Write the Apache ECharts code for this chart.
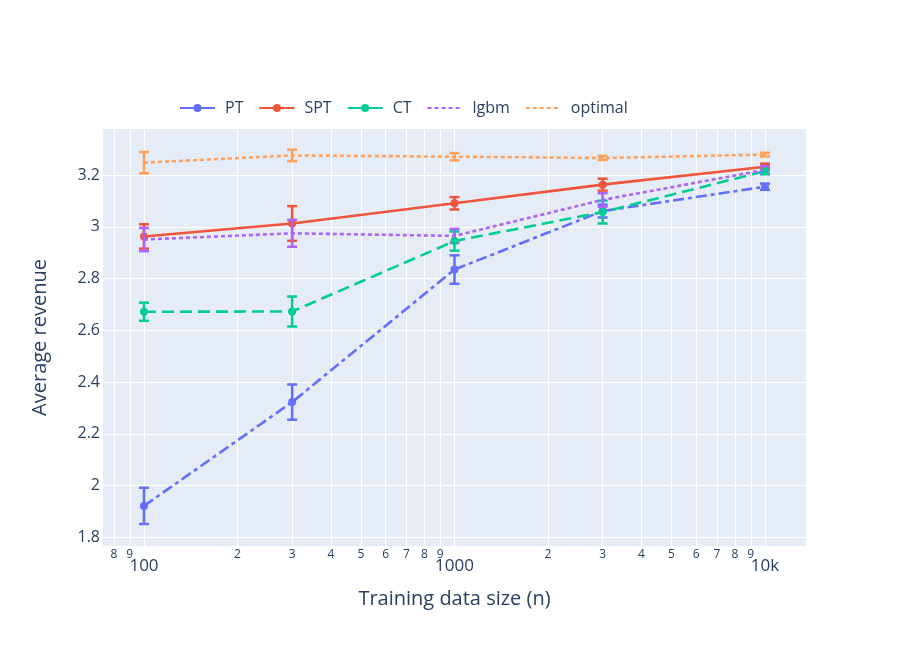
<!DOCTYPE html>
<html>
<head>
<meta charset="utf-8">
<script src="https://cdn.jsdelivr.net/npm/echarts@6/dist/echarts.min.js"></script>
<style>
  html, body { margin: 0; padding: 0; background: #fff; }
  #chart { width: 913px; height: 655px; }
</style>
</head>
<body>
<div id="chart"></div>
<script>
// training sizes (x is log scale)
var sizes = [100, 300, 1000, 3000, 10000];

// mean revenue per method
var ptMean      = [1.922, 2.323, 2.835, 3.061, 3.155];
var ptErr       = [0.070, 0.068, 0.055, 0.025, 0.012];
var sptMean     = [2.963, 3.013, 3.091, 3.163, 3.232];
var sptErr      = [0.047, 0.067, 0.024, 0.023, 0.012];
var ctMean      = [2.672, 2.673, 2.945, 3.057, 3.215];
var ctErr       = [0.035, 0.058, 0.037, 0.044, 0.012];
var lgbmMean    = [2.951, 2.975, 2.965, 3.104, 3.220];
var lgbmErr     = [0.045, 0.052, 0.027, 0.026, 0.014];
var optimalMean = [3.248, 3.276, 3.271, 3.266, 3.279];
var optimalErr  = [0.041, 0.022, 0.014, 0.008, 0.007];

// tick labels
var minorTicks = [80, 90, 200, 300, 400, 500, 600, 700, 800, 900,
                  2000, 3000, 4000, 5000, 6000, 7000, 8000, 9000];
var majorTicks = [100, 1000, 10000];
var majorLabels = {100: '100', 1000: '1000', 10000: '10k'};
var yTicks = [1.8, 2, 2.2, 2.4, 2.6, 2.8, 3, 3.2];

var FONT = '"Open Sans", verdana, arial, sans-serif';
var TXT = '#2a3f5f';

function lg(v) { return Math.log10(v); }

var allTicks = minorTicks.concat(majorTicks).map(lg);

var methods = [
  {name: 'PT',      color: '#636efa', mean: ptMean,      err: ptErr,      dash: [11, 4, 4, 4], marker: true},
  {name: 'SPT',     color: '#EF553B', mean: sptMean,     err: sptErr,     dash: 'solid',       marker: true},
  {name: 'CT',      color: '#00cc96', mean: ctMean,      err: ctErr,      dash: [12, 6],       marker: true},
  {name: 'lgbm',    color: '#ab63fa', mean: lgbmMean,    err: lgbmErr,    dash: [4, 3],        marker: false},
  {name: 'optimal', color: '#FFA15A', mean: optimalMean, err: optimalErr, dash: [4, 3],        marker: false}
];

var series = [];
// lines first so the legend picks their icon
methods.forEach(function (m, i) {
  series.push({
    name: m.name,
    type: 'line',
    xAxisIndex: 0,
    data: sizes.map(function (s, j) { return [lg(s), m.mean[j]]; }),
    symbol: m.marker ? 'circle' : 'none',
    symbolSize: 8,
    showSymbol: m.marker,
    itemStyle: {color: m.color},
    lineStyle: {color: m.color, width: 2.6, type: m.dash},
    animation: false,
    z: 3 + i
  });
});
// error bars
methods.forEach(function (m, i) {
  series.push({
    name: m.name,
    type: 'custom',
    xAxisIndex: 0,
    data: sizes.map(function (s, j) { return [lg(s), m.mean[j] - m.err[j], m.mean[j] + m.err[j]]; }),
    renderItem: function (params, api) {
      var lo = api.coord([api.value(0), api.value(1)]);
      var hi = api.coord([api.value(0), api.value(2)]);
      var hw = 5;
      var st = {stroke: m.color, lineWidth: 2.5};
      return {
        type: 'group',
        children: [
          {type: 'line', shape: {x1: lo[0], y1: lo[1], x2: hi[0], y2: hi[1]}, style: st},
          {type: 'line', shape: {x1: lo[0] - hw, y1: lo[1], x2: lo[0] + hw, y2: lo[1]}, style: st},
          {type: 'line', shape: {x1: hi[0] - hw, y1: hi[1], x2: hi[0] + hw, y2: hi[1]}, style: st}
        ]
      };
    },
    animation: false,
    z: 2 + i
  });
});

var xMin = 1.868, xMax = 4.132;

var chart = echarts.init(document.getElementById('chart'));
chart.setOption({
  backgroundColor: '#fff',
  textStyle: {fontFamily: FONT},
  legend: {
    left: 174,
    top: 95,
    itemWidth: 35,
    itemHeight: 10,
    itemGap: 15,
    textStyle: {fontSize: 16, color: TXT, fontFamily: FONT, padding: [0, 0, 0, 5]},
    data: methods.map(function (m) {
      var d = {name: m.name, lineStyle: {type: m.marker ? 'solid' : m.dash}};
      if (!m.marker) d.itemStyle = {opacity: 0};
      return d;
    })
  },
  grid: {
    left: 103, right: 107, top: 129, bottom: 109,
    show: true, backgroundColor: '#E5ECF6', borderWidth: 0
  },
  xAxis: [
    {
      // minor digits and every grid line
      type: 'value', min: xMin, max: xMax,
      name: 'Training data size (n)',
      nameLocation: 'middle', nameGap: 43,
      nameTextStyle: {fontSize: 20, color: TXT, fontFamily: FONT},
      axisLine: {show: false},
      axisTick: {show: false, customValues: allTicks},
      splitLine: {show: true, lineStyle: {color: '#fff', width: 1}},
      axisLabel: {
        customValues: minorTicks.map(lg),
        margin: 3, fontSize: 12, color: TXT, fontFamily: FONT,
        formatter: function (v) { return String(Math.round(Math.pow(10, v - Math.floor(v + 1e-9)))); }
      }
    },
    {
      // decade labels, set lower
      type: 'value', min: xMin, max: xMax, position: 'bottom',
      axisLine: {show: false},
      axisTick: {show: false, customValues: majorTicks.map(lg)},
      splitLine: {show: false},
      axisLabel: {
        customValues: majorTicks.map(lg),
        margin: 12, fontSize: 17, color: TXT, fontFamily: FONT,
        formatter: function (v) { return majorLabels[Math.round(Math.pow(10, v))]; }
      }
    }
  ],
  yAxis: {
    type: 'value', min: 1.767, max: 3.378,
    name: 'Average revenue',
    nameLocation: 'middle', nameGap: 53, nameRotate: 90,
    nameTextStyle: {fontSize: 20, color: TXT, fontFamily: FONT},
    axisLine: {show: false},
    axisTick: {show: false, customValues: yTicks},
    splitLine: {show: true, lineStyle: {color: '#fff', width: 1}},
    axisLabel: {
      customValues: yTicks,
      margin: 3, fontSize: 16, color: TXT, fontFamily: FONT,
      formatter: function (v) { return String(parseFloat(v.toFixed(1))); }
    }
  },
  series: series
});
</script>
</body>
</html>
